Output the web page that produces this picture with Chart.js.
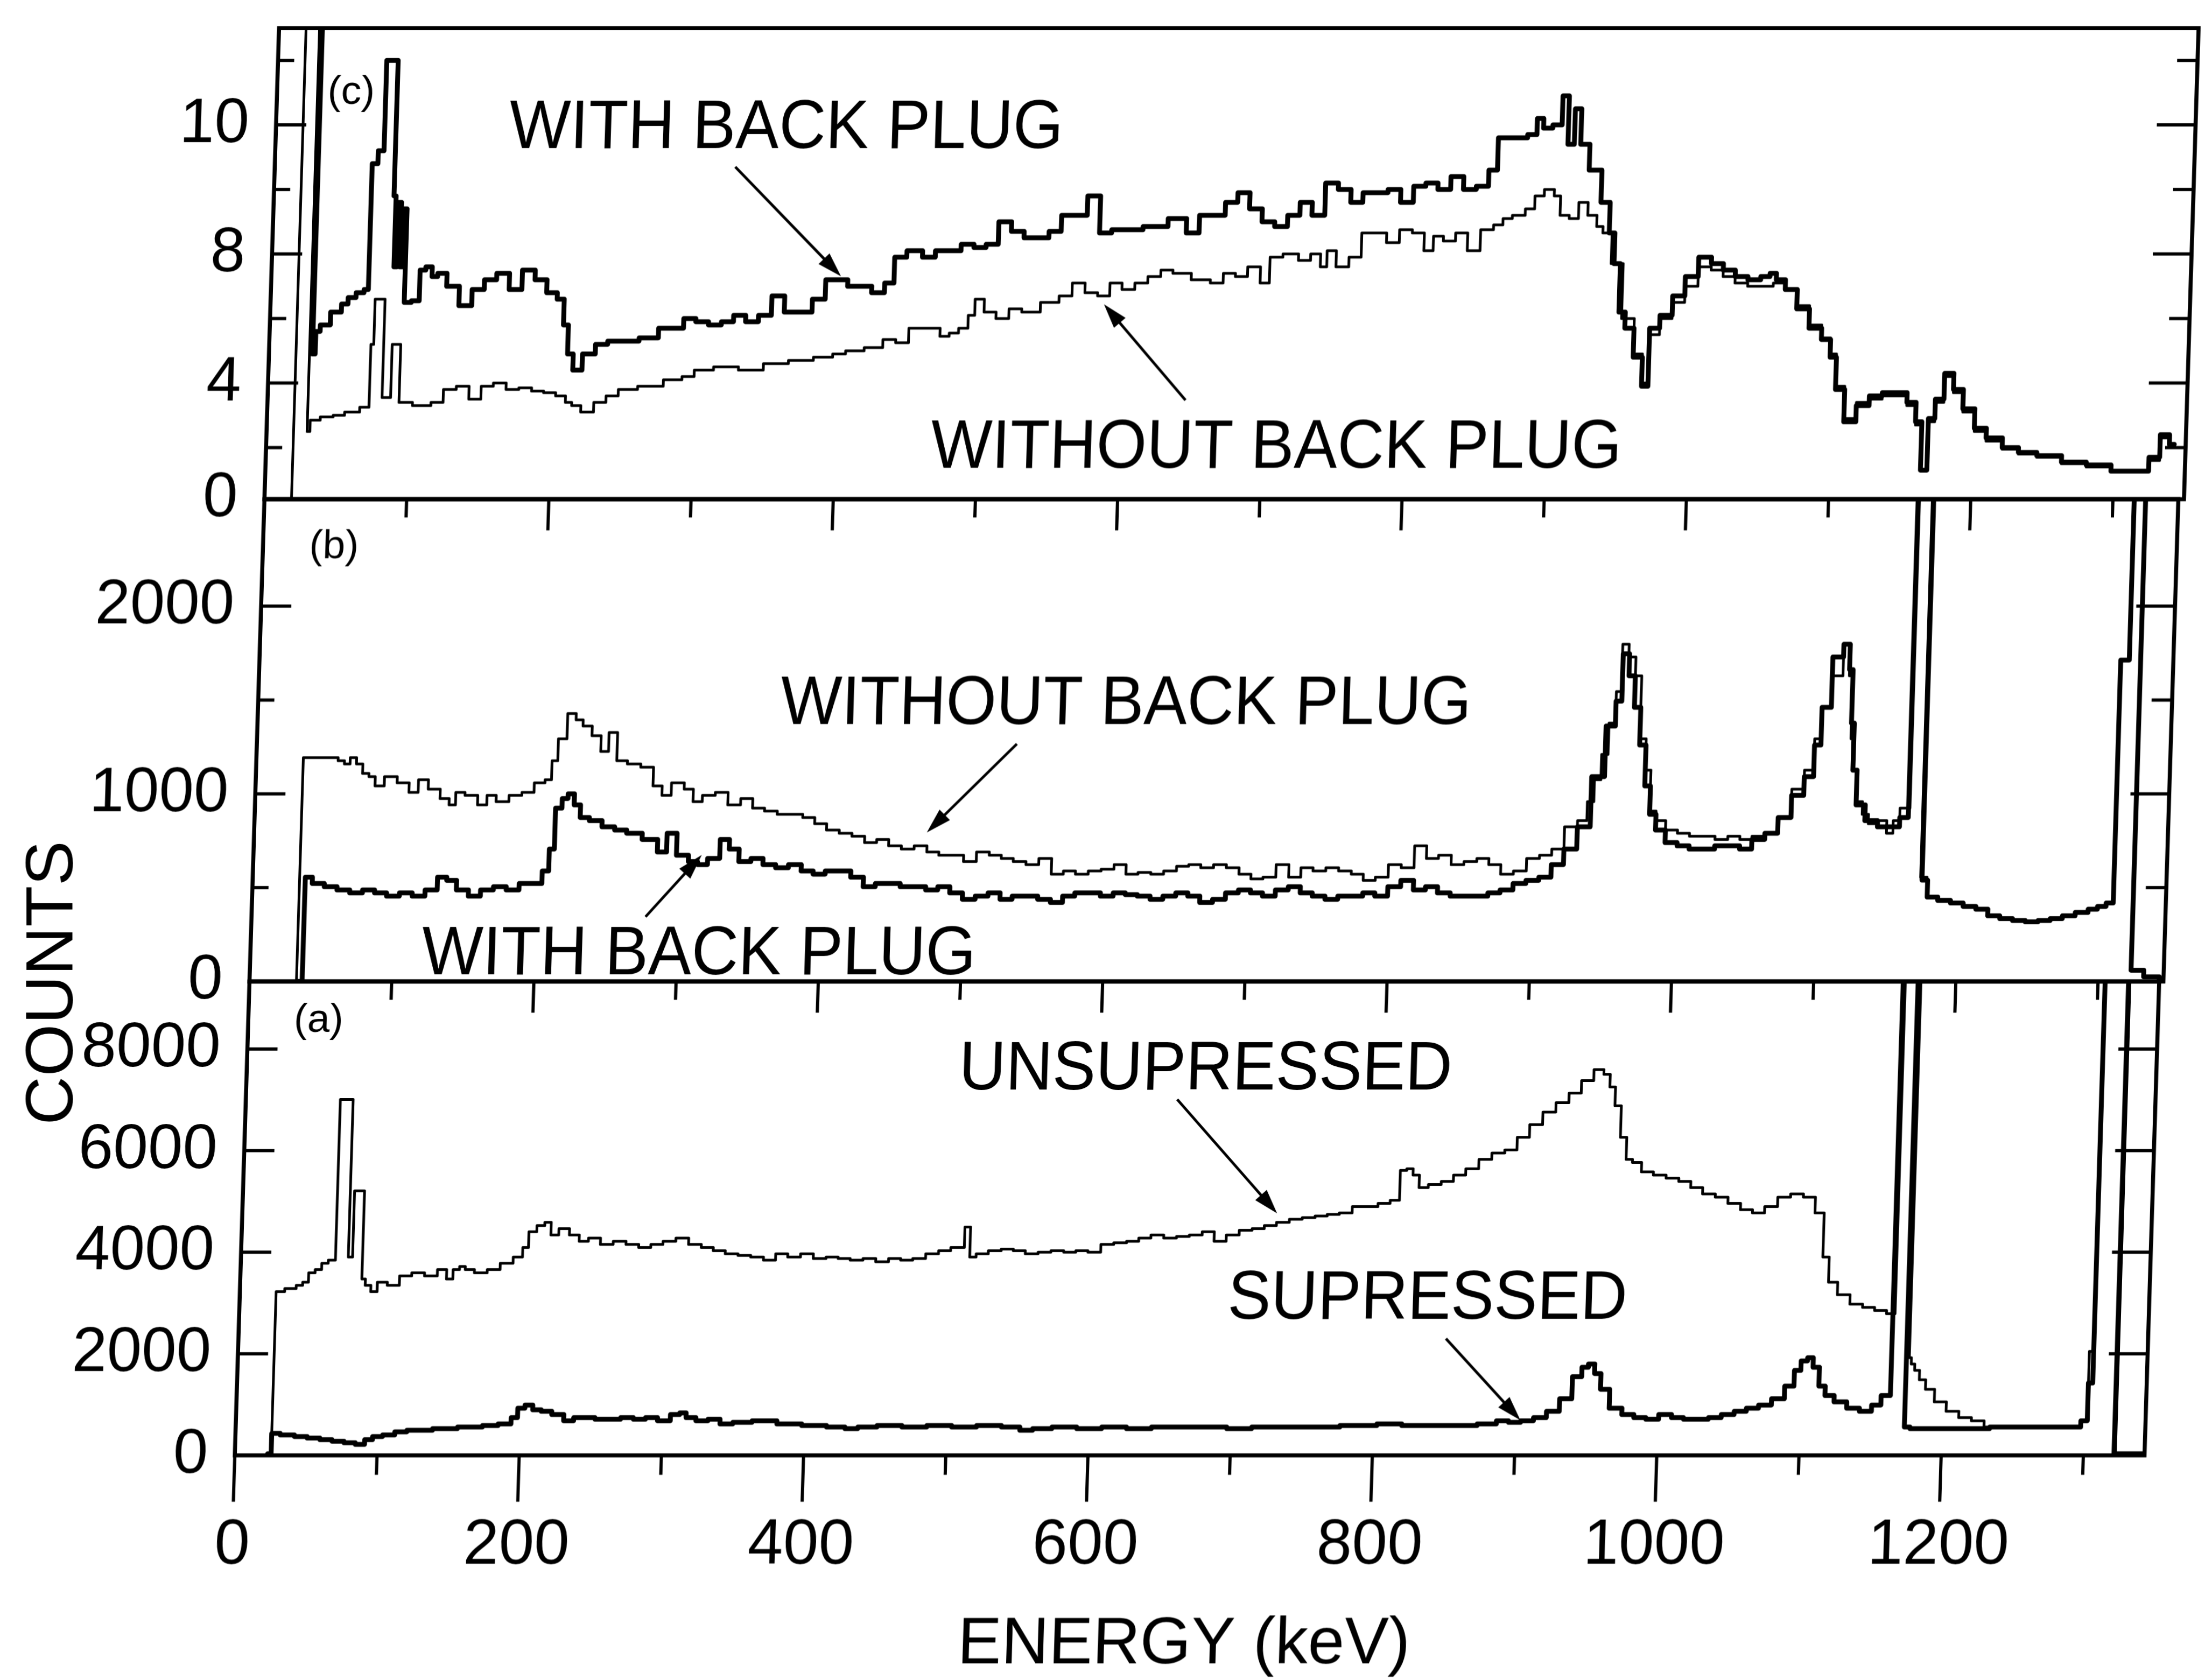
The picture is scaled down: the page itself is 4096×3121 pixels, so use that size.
<!DOCTYPE html>
<html>
<head>
<meta charset="utf-8">
<title>Energy spectra with and without back plug</title>
<script src="https://cdn.jsdelivr.net/npm/chart.js@4.4.1/dist/chart.umd.min.js"></script>
<style>
  html, body { margin: 0; padding: 0; background: #fff; overflow: hidden; }
  #page { position: relative; width: 4096px; height: 3121px; background: #fff; }
  /* the scanned figure leans slightly to the right towards the top */
  #frame { position: absolute; left: 0; top: 0; width: 4096px; height: 3121px;
           transform-origin: 0 2701px; transform: skewX(-1.776deg); }
  #frame canvas { position: absolute; left: 0; top: 0; }
  #counts { position: absolute; left: 91px; top: 1826px; transform: translate(-50%, -50%) rotate(-90deg);
            font: 125px "Liberation Sans", Arial, sans-serif; line-height: 1; color: #000; white-space: nowrap; }
</style>
</head>
<body>
<div id="page">
  <div id="frame">
    <canvas id="panelC" width="4096" height="3121"></canvas>
    <canvas id="panelB" width="4096" height="3121"></canvas>
    <canvas id="panelA" width="4096" height="3121"></canvas>
  </div>
  <div id="counts">COUNTS</div>
</div>
<script>
// [energy keV, counts]

// (c) top panel
const cWithPlug = [
  [24,20],[30,20],[31,4.9],[34,5.6],[37,5.8],[48,6.2],[52,6.45],[57,6.65],[63,6.8],[68,6.9],[69,10.8],[76,11.2],
  [77,14.0],[84,14.0],[85,9.8],[87,7.6],[89,9.6],[91,7.6],[93,9.4],[95,6.5],[103,6.55],[106,7.5],[111,7.6],[115,7.3],
  [119,7.4],[128,7.0],[137,6.4],[146,6.9],[154,7.2],[163,7.4],[172,6.9],[181,7.5],[190,7.2],[198,6.8],[205,6.6],
  [208,5.8],[212,4.9],[216,4.4],[225,4.9],[234,5.2],[242,5.3],[251,5.3],[269,5.4],[278,5.7],[287,5.7],[295,6.0],
  [304,5.9],[313,5.8],[322,5.9],[330,6.1],[339,5.9],[348,6.1],[357,6.7],[366,6.2],[374,6.2],[388,6.6],[392,7.2],
  [401,7.2],[410,7.0],[418,7.0],[427,6.8],[436,7.1],[440,7.9],[453,8.1],[462,7.9],[471,8.1],[480,8.1],[489,8.3],
  [498,8.2],[506,8.3],[515,9.0],[524,8.7],[533,8.5],[542,8.5],[550,8.7],[559,9.2],[568,9.2],[577,9.8],[586,8.65],
  [594,8.75],[603,8.75],[621,8.85],[638,9.1],[647,8.65],[656,9.2],[665,9.2],[674,9.6],[682,9.9],[691,9.4],[700,9.0],
  [709,8.85],[718,9.2],[726,9.6],[735,9.2],[744,10.2],[753,10.0],[762,9.6],[770,9.9],[779,9.9],[788,10.0],[797,9.6],
  [806,10.1],[814,10.2],[823,10.0],[832,10.4],[841,10.0],[850,10.1],[858,10.6],[862,11.6],[876,11.6],[885,11.7],
  [889,12.2],[894,11.9],[902,12.0],[907,12.9],[911,11.4],[916,12.5],[920,11.4],[929,10.6],[938,9.6],[942,8.65],
  [946,7.7],[951,6.2],[955,5.7],[964,4.8],[968,3.9],[973,5.7],[982,6.1],[990,6.7],[999,7.3],[1008,7.9],[1017,7.7],
  [1025,7.5],[1034,7.3],[1043,7.2],[1052,7.3],[1056,7.4],[1061,7.2],[1069,6.9],[1078,6.3],[1087,5.7],[1096,5.35],
  [1100,4.8],[1105,3.8],[1113,2.8],[1122,3.3],[1131,3.6],[1140,3.7],[1149,3.7],[1157,3.4],[1162,2.8],[1166,1.3],
  [1171,2.9],[1175,3.5],[1183,4.3],[1188,3.8],[1197,3.2],[1205,2.6],[1214,2.3],[1228,2.0],[1237,1.85],[1254,1.75],
  [1272,1.55],[1289,1.46],[1307,1.27],[1320,1.27],[1329,1.7],[1335,2.4],[1342,2.1]
];
const cWithoutPlug = [
  [18,0.4],[20,20],[28,20],[29,2.5],[32,2.85],[43,2.95],[50,3.0],[59,3.1],[71,3.25],[72,5.2],[75,6.6],[80,6.6],
  [81,3.55],[86,3.55],[87,5.2],[92,5.2],[93,3.4],[111,3.3],[119,3.4],[128,3.8],[137,3.9],[146,3.5],[154,3.9],
  [163,4.0],[172,3.8],[181,3.85],[190,3.75],[198,3.7],[207,3.6],[212,3.4],[216,3.3],[225,3.1],[234,3.4],[242,3.6],
  [251,3.8],[269,3.9],[287,4.1],[295,4.2],[304,4.4],[322,4.5],[339,4.4],[357,4.6],[374,4.7],[392,4.8],[401,4.9],
  [410,5.0],[427,5.1],[436,5.35],[445,5.25],[454,5.7],[467,5.7],[476,5.45],[480,5.55],[489,5.7],[493,6.1],[498,6.6],
  [506,6.2],[515,6.0],[524,6.3],[533,6.2],[550,6.5],[559,6.7],[568,7.1],[577,6.8],[586,6.7],[594,7.1],[603,6.9],
  [612,7.1],[621,7.3],[630,7.5],[638,7.4],[656,7.2],[665,7.1],[674,7.4],[682,7.3],[691,7.6],[700,7.1],[704,7.9],
  [718,8.0],[726,7.8],[735,8.0],[740,7.6],[744,8.1],[753,7.6],[762,7.9],[770,8.65],[779,8.65],[788,8.35],[797,8.75],
  [806,8.65],[814,8.1],[819,8.55],[828,8.4],[836,8.65],[845,8.1],[854,8.75],[863,8.9],[867,9.1],[876,9.2],[885,9.4],
  [889,9.8],[898,10.0],[903,9.8],[907,9.2],[916,9.1],[920,9.6],[929,9.2],[933,8.85],[938,8.65],[946,7.7],[955,6.0],
  [964,4.9],[968,4.0],[973,5.5],[982,6.0],[990,6.5],[999,7.0],[1008,7.6],[1017,7.5],[1025,7.3],[1034,7.1],[1043,7.0],
  [1052,7.0],[1061,7.1],[1069,6.9],[1078,6.4],[1087,5.8],[1096,5.4],[1100,4.9],[1105,3.9],[1113,2.9],[1122,3.4],
  [1131,3.5],[1140,3.6],[1149,3.6],[1157,3.3],[1162,2.7],[1166,1.3],[1171,2.8],[1175,3.4],[1183,4.2],[1188,3.7],
  [1197,3.1],[1205,2.5],[1214,2.2],[1228,1.95],[1237,1.8],[1254,1.7],[1272,1.5],[1289,1.4],[1307,1.25],[1320,1.25],
  [1329,1.6],[1335,2.3],[1342,2.0]
];

// (b) middle panel
const bWithoutPlug = [
  [30,0],[32,0],[34,1193],[55,1193],[60,1176],[64,1159],[68,1193],[73,1159],[77,1109],[82,1092],[86,1042],[95,1092],
  [104,1059],[112,1008],[117,1075],[126,1025],[134,975],[139,941],[143,1008],[152,992],[161,941],[165,992],[174,958],
  [183,992],[192,1008],[200,1059],[207,1075],[209,1176],[215,1293],[221,1428],[227,1394],[231,1361],[240,1310],
  [244,1226],[251,1327],[256,1176],[266,1159],[275,1142],[284,1042],[288,992],[297,1059],[306,1025],[310,958],
  [319,992],[328,1008],[337,941],[346,975],[354,924],[363,908],[372,891],[381,891],[390,874],[398,841],[407,807],
  [416,790],[425,774],[434,740],[442,757],[451,723],[460,706],[469,723],[478,690],[486,673],[495,673],[504,639],
  [513,690],[522,673],[530,656],[539,639],[548,623],[557,656],[566,572],[574,589],[583,572],[592,589],[601,598],
  [610,623],[618,572],[627,581],[636,572],[645,589],[654,614],[662,623],[671,606],[680,623],[689,606],[698,572],
  [706,547],[715,556],[724,623],[733,556],[741,606],[750,589],[759,606],[768,589],[777,572],[785,539],[794,556],
  [803,623],[812,606],[821,723],[829,656],[838,673],[847,623],[856,639],[865,656],[873,623],[882,572],[891,589],
  [900,656],[909,673],[917,706],[926,824],[935,857],[939,958],[944,1075],[948,1210],[953,1377],[957,1545],[960,1797],
  [966,1729],[970,1629],[975,1293],[979,1126],[983,908],[988,857],[997,807],[1005,790],[1014,774],[1023,774],
  [1032,757],[1041,774],[1049,757],[1058,774],[1067,790],[1076,874],[1085,1025],[1093,1126],[1098,1293],[1102,1461],
  [1111,1629],[1117,1797],[1120,1629],[1122,1293],[1124,1126],[1128,958],[1133,891],[1137,841],[1146,857],[1150,790],
  [1155,857],[1159,924],[1163,924],[1165,5000],[1172,5000],[1174,556],[1181,455],[1190,438],[1199,421],[1208,405],
  [1217,388],[1225,354],[1234,338],[1243,329],[1252,321],[1261,329],[1269,338],[1278,354],[1287,371],[1296,388],
  [1300,405],[1308,421],[1310,1713],[1314,1713],[1316,5000],[1322,5000],[1324,60],[1340,25],[1346,10]
];
const bWithPlug = [
  [34,0],[36,0],[38,556],[46,522],[55,505],[64,488],[73,472],[82,488],[90,472],[99,455],[108,472],[117,455],[126,488],
  [134,556],[139,539],[148,488],[156,455],[165,488],[174,505],[183,488],[192,522],[200,522],[207,589],[209,706],
  [214,924],[218,975],[222,1000],[227,941],[231,874],[240,857],[249,824],[258,807],[266,790],[280,757],[288,690],
  [293,790],[302,673],[310,639],[315,623],[324,656],[332,757],[337,706],[346,639],[354,656],[363,623],[372,606],
  [381,623],[390,589],[398,572],[407,589],[416,589],[425,556],[434,505],[442,522],[451,522],[460,505],[469,505],
  [478,488],[486,505],[495,472],[504,438],[513,455],[522,472],[530,438],[539,455],[548,455],[557,438],[566,421],
  [574,455],[583,472],[592,472],[601,455],[610,472],[618,463],[627,455],[636,438],[645,455],[654,472],[662,455],
  [671,421],[680,438],[689,472],[698,488],[706,472],[715,455],[724,488],[733,505],[741,472],[750,455],[759,438],
  [768,455],[777,455],[785,472],[794,455],[803,505],[812,539],[821,488],[829,505],[838,472],[847,455],[856,455],
  [865,455],[873,472],[882,488],[891,522],[900,539],[909,556],[917,623],[926,706],[935,824],[944,1092],[953,1361],
  [957,1494],[961,1746],[966,1629],[970,1461],[975,1260],[979,1042],[983,891],[988,807],[997,740],[1005,723],
  [1014,706],[1023,706],[1032,723],[1041,723],[1049,706],[1058,757],[1067,790],[1076,874],[1085,992],[1093,1092],
  [1098,1260],[1102,1461],[1111,1729],[1117,1797],[1120,1662],[1122,1377],[1124,1126],[1128,941],[1137,857],
  [1146,824],[1155,824],[1159,874],[1162,874],[1164,5000],[1173,5000],[1175,540],[1181,450],[1190,432],[1199,418],
  [1208,400],[1217,385],[1225,350],[1234,335],[1243,325],[1252,318],[1261,325],[1269,335],[1278,350],[1287,368],
  [1296,385],[1300,400],[1308,418],[1310,1713],[1314,1713],[1316,5000],[1322,5000],[1324,60],[1340,25],[1346,10]
];

// (a) bottom panel
const aUnsupressed = [
  [23,30],[25,30],[26,3224],[37,3286],[42,3348],[46,3410],[50,3596],[55,3658],[59,3782],[64,3844],[66,3844],
  [67,7007],[75,7007],[76,3906],[78,3906],[79,5209],[85,5209],[86,3472],[90,3348],[94,3224],[99,3410],[108,3348],
  [116,3534],[125,3596],[134,3534],[143,3658],[147,3472],[152,3658],[156,3720],[160,3658],[169,3596],[178,3658],
  [187,3782],[196,3906],[200,4092],[204,4402],[211,4526],[215,4588],[220,4340],[226,4464],[235,4340],[240,4216],
  [248,4278],[257,4154],[266,4216],[275,4154],[284,4092],[292,4154],[301,4216],[310,4278],[319,4154],[328,4092],
  [336,4030],[345,3968],[354,3937],[363,3906],[372,3844],[380,3968],[389,3906],[398,3968],[407,3875],[416,3906],
  [424,3875],[433,3844],[442,3875],[451,3813],[460,3875],[468,3844],[477,3875],[486,3968],[495,4030],[503,4092],
  [508,4092],[509,4495],[512,4495],[513,3906],[521,3968],[530,4030],[539,4061],[547,4030],[556,3968],[565,3999],
  [574,4030],[583,3999],[591,4030],[600,3999],[609,4154],[618,4185],[627,4216],[635,4278],[644,4340],[653,4278],
  [662,4309],[671,4340],[680,4402],[688,4216],[697,4340],[706,4433],[715,4464],[723,4526],[732,4588],[741,4650],
  [750,4682],[759,4713],[767,4744],[776,4775],[785,4899],[794,4899],[803,4961],[811,5023],[816,5612],[820,5643],
  [825,5519],[829,5271],[838,5333],[847,5395],[855,5519],[864,5643],[873,5829],[882,5953],[891,6015],[899,6263],
  [908,6511],[917,6759],[926,6945],[935,7131],[943,7379],[952,7596],[957,7503],[961,7255],[965,6883],[970,6263],
  [974,5829],[979,5767],[987,5581],[996,5519],[1005,5457],[1014,5395],[1022,5271],[1031,5147],[1040,5085],
  [1049,4961],[1058,4837],[1066,4775],[1075,4899],[1084,5085],[1093,5147],[1102,5085],[1110,4775],[1115,3906],
  [1119,3410],[1128,3162],[1137,2976],[1146,2914],[1154,2852],[1163,2790],[1166,20000],[1175,20000],[1176,1922],
  [1178,1798],[1181,1673],[1185,1487],[1190,1301],[1198,1053],[1207,867],[1216,743],[1225,681],[1234,557],
  [1269,557],[1295,557],[1300,681],[1304,2046],[1307,20000],[1322,20000],[1323,30],[1343,30]
];
const aSupressed = [
  [23,30],[25,30],[26,433],[37,402],[46,371],[55,340],[64,309],[72,278],[81,247],[88,216],[94,309],[99,371],
  [108,402],[116,464],[125,495],[134,495],[143,526],[152,526],[160,557],[169,557],[178,588],[191,619],[196,743],
  [200,929],[206,991],[211,898],[218,867],[226,805],[235,681],[240,743],[248,743],[257,712],[266,712],[275,743],
  [284,712],[292,743],[301,681],[310,805],[314,836],[319,743],[328,681],[336,712],[345,619],[354,650],[372,681],
  [389,619],[407,588],[424,557],[433,526],[442,557],[460,588],[477,557],[495,588],[512,557],[530,588],[547,557],
  [556,495],[565,526],[583,557],[600,526],[618,557],[635,526],[653,557],[688,557],[706,526],[723,557],[759,557],
  [794,588],[811,619],[829,588],[864,588],[882,619],[891,681],[899,650],[908,681],[917,743],[926,867],[935,1115],
  [943,1549],[948,1735],[952,1798],[957,1611],[961,1301],[970,929],[979,805],[987,743],[996,712],[1005,805],
  [1014,743],[1022,712],[1031,712],[1040,743],[1049,805],[1058,867],[1066,929],[1075,991],[1084,1115],[1093,1363],
  [1097,1673],[1102,1860],[1106,1922],[1110,1735],[1115,1363],[1119,1177],[1128,1053],[1137,929],[1146,867],
  [1154,991],[1159,1177],[1162,1177],[1164,20000],[1173,20000],[1174,557],[1181,526],[1216,526],[1251,557],
  [1295,557],[1300,681],[1304,1425],[1306,20000],[1321,20000],[1322,30],[1343,30]
];

// axis ticks
const cTickVals = [0.4, 4, 8, 12];
const cTickText = ['0', '4', '8', '10'];
const cMarks = [2, 4, 6, 8, 10, 12, 14];
const bTickVals = [0, 1000, 2000];
const bMarks = [500, 1000, 1500, 2000];
const aTickVals = [0, 2000, 4000, 6000, 8000];
const aMarks = [2000, 4000, 6000, 8000];
const energyTicks = [0, 200, 400, 600, 800, 1000, 1200];
const energyMarks = [0, 100, 200, 300, 400, 500, 600, 700, 800, 900, 1000, 1100, 1200, 1300];

// page geometry (reference measured at 1568 px wide)
const W = 4096, H = 3121;
const S = W / 1568;
const LEFT = 167 * S;
const FONT = '"Liberation Sans", Arial, Helvetica, sans-serif';

Chart.defaults.font.family = FONT;
Chart.defaults.color = '#000';

const framePlugin = {
  id: 'frame',
  afterDraw(chart, args, o) {
    const {ctx, chartArea: ar, scales: {x, y}} = chart;
    ctx.save();
    ctx.strokeStyle = '#000';
    ctx.fillStyle = '#000';

    // tick marks, all pointing into the box except the bottom axis
    ctx.lineWidth = 6;
    ctx.beginPath();
    o.marks.forEach(v => {
      const py = y.getPixelForValue(v);
      const big = o.long.includes(v);
      ctx.moveTo(ar.left, py); ctx.lineTo(ar.left + (big ? 56 : 30), py);
      ctx.moveTo(ar.right, py); ctx.lineTo(ar.right - (big ? 72 : 38), py);
    });
    energyMarks.forEach(v => {
      const px = x.getPixelForValue(v);
      const big = v % 200 === 0;
      if (o.topMarks && v > 0) { ctx.moveTo(px, ar.top); ctx.lineTo(px, ar.top + (big ? 58 : 34)); }
      if (o.bottomMarks) { ctx.moveTo(px, ar.bottom); ctx.lineTo(px, ar.bottom + (big ? 86 : 36)); }
    });
    ctx.stroke();

    ctx.lineWidth = 7.5;
    ctx.strokeRect(ar.left, ar.top, ar.width, ar.height);

    // panel letter
    ctx.font = `75px ${FONT}`;
    ctx.textAlign = 'left';
    ctx.textBaseline = 'middle';
    ctx.fillText(o.tag.text, x.getPixelForValue(o.tag.x), y.getPixelForValue(o.tag.y));

    // curve captions
    ctx.font = `128px ${FONT}`;
    ctx.textBaseline = 'alphabetic';
    o.notes.forEach(n => {
      ctx.save();
      ctx.translate(x.getPixelForValue(n.x), y.getPixelForValue(n.y));
      ctx.scale(0.94, 1);
      ctx.fillText(n.text, 0, 0);
      ctx.restore();
    });

    // pointer arrows
    ctx.lineWidth = 5;
    o.arrows.forEach(([x1, y1, x2, y2]) => {
      const ax = x.getPixelForValue(x1), ay = y.getPixelForValue(y1);
      const bx = x.getPixelForValue(x2), by = y.getPixelForValue(y2);
      const ang = Math.atan2(by - ay, bx - ax);
      const c = Math.cos(ang), s = Math.sin(ang);
      const hl = 46, hw = 14;
      ctx.beginPath();
      ctx.moveTo(ax, ay);
      ctx.lineTo(bx - c * hl * 0.8, by - s * hl * 0.8);
      ctx.stroke();
      ctx.beginPath();
      ctx.moveTo(bx, by);
      ctx.lineTo(bx - c * hl + s * hw, by - s * hl - c * hw);
      ctx.lineTo(bx - c * hl - s * hw, by - s * hl + c * hw);
      ctx.closePath();
      ctx.fill();
    });
    ctx.restore();
  }
};

function makePanel(id, p) {
  return new Chart(document.getElementById(id), {
    type: 'line',
    data: {
      datasets: p.series.map(s => ({
        data: s.data.map(([x, y]) => ({x, y})),
        borderColor: '#000',
        borderWidth: s.width,
        borderJoinStyle: 'round',
        borderCapStyle: 'round',
        pointRadius: 0,
        stepped: 'middle',
        fill: false
      }))
    },
    options: {
      responsive: false,
      animation: false,
      devicePixelRatio: 1,
      events: [],
      layout: { padding: { left: 0, top: p.top, right: W - p.right, bottom: p.showX ? 0 : H - p.bottom } },
      scales: {
        x: {
          type: 'linear', min: 0, max: p.xMax, display: p.showX,
          grid: { display: false, drawTicks: false },
          border: { display: false },
          afterBuildTicks: s => { s.ticks = energyTicks.map(v => ({value: v})); },
          afterFit: p.showX ? (s => { s.height = H - p.bottom; s.paddingLeft = 0; s.paddingRight = 0; }) : undefined,
          ticks: { padding: 98, font: { size: 118 }, color: '#000', autoSkip: false, maxRotation: 0,
                   callback: v => String(v) },
          title: { display: p.showX, text: 'ENERGY (keV)', color: '#000',
                   font: { size: 122, lineHeight: 1 }, padding: { top: 0, bottom: 4 } }
        },
        y: {
          type: 'linear', min: p.yMin, max: p.yMax,
          grid: { display: false, drawTicks: false },
          border: { display: false },
          afterBuildTicks: s => { s.ticks = p.tickVals.map(v => ({value: v})); },
          afterFit: s => { s.width = LEFT; s.paddingTop = 0; s.paddingBottom = 0; },
          ticks: { padding: 50, font: { size: 116 }, color: '#000', autoSkip: false,
                   callback: v => p.tickText[p.tickVals.indexOf(v)] }
        }
      },
      plugins: {
        legend: { display: false },
        tooltip: { enabled: false },
        frame: p.frame
      }
    },
    plugins: [framePlugin]
  });
}

makePanel('panelC', {
  top: 20 * S, bottom: 355 * S, right: 1532 * S, xMax: 1350, showX: false,
  yMin: 0.4, yMax: 15.0, tickVals: cTickVals, tickText: cTickText,
  series: [ { data: cWithoutPlug, width: 5 }, { data: cWithPlug, width: 9 } ],
  frame: {
    marks: cMarks, long: [4, 8, 12], topMarks: false, bottomMarks: false,
    tag: { text: '(c)', x: 35.6, y: 13.0 },
    notes: [ { text: 'WITH BACK PLUG', x: 164, y: 11.29 }, { text: 'WITHOUT BACK PLUG', x: 467.5, y: 1.37 } ],
    arrows: [ [323.9, 10.7, 400.6, 7.31], [645.6, 3.47, 586.2, 6.44] ]
  }
});

makePanel('panelB', {
  top: 355 * S, bottom: 698 * S, right: 1528 * S, xMax: 1346, showX: false,
  yMin: 0, yMax: 2570, tickVals: bTickVals, tickText: bTickVals.map(String),
  series: [ { data: bWithoutPlug, width: 5 }, { data: bWithPlug, width: 9 } ],
  frame: {
    marks: bMarks, long: [1000, 2000], topMarks: true, bottomMarks: false,
    tag: { text: '(b)', x: 32.6, y: 2315 },
    notes: [ { text: 'WITHOUT BACK PLUG', x: 367.4, y: 1371 }, { text: 'WITH BACK PLUG', x: 120.5, y: 37 } ],
    arrows: [ [534.5, 1266, 473.1, 794], [277.1, 345, 315.3, 674] ]
  }
});

makePanel('panelA', {
  top: 698 * S, bottom: 1035 * S, right: 1525 * S, xMax: 1343, showX: true,
  yMin: 0, yMax: 9330, tickVals: aTickVals, tickText: aTickVals.map(String),
  series: [ { data: aUnsupressed, width: 5 }, { data: aSupressed, width: 9 } ],
  frame: {
    marks: aMarks, long: aMarks, topMarks: true, bottomMarks: true,
    tag: { text: '(a)', x: 32.1, y: 8560 },
    notes: [ { text: 'UNSUPRESSED', x: 500.9, y: 7202 }, { text: 'SUPRESSED', x: 694.9, y: 2687 } ],
    arrows: [ [655, 7008, 727.7, 4765], [849.2, 2299, 903.3, 693] ]
  }
});
</script>
</body>
</html>
